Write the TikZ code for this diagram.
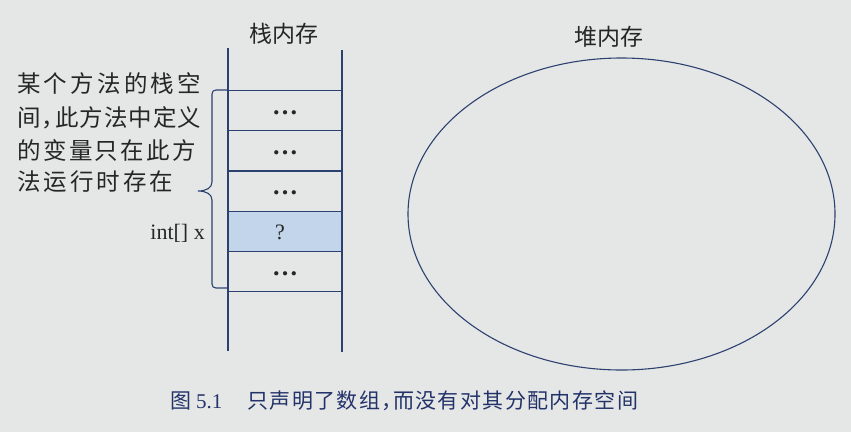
\documentclass[tikz,border=0pt]{standalone}
\usepackage{fontspec}
\setmainfont{Liberation Serif}
\newfontfamily\cjk{Noto Sans CJK SC}
\usetikzlibrary{shapes.geometric}
\definecolor{bgc}{HTML}{E5E7E6}
\definecolor{linec}{HTML}{2D4170}
\definecolor{cellblue}{HTML}{C3D5EA}
\definecolor{txtc}{HTML}{262626}
\definecolor{capc}{HTML}{23336A}
\begin{document}
\begin{tikzpicture}[x=1pt,y=-1pt,
  line/.style={draw=linec,line width=1.15pt},
  cell/.style={minimum width=114pt,minimum height=40.3pt,inner sep=0pt,outer sep=0pt},
  dotsnode/.style={font=\fontsize{26}{26}\selectfont\bfseries,text=txtc,inner sep=0pt,anchor=base},
  note/.style={font=\cjk\fontsize{23.5}{23.5}\selectfont,text=txtc,inner sep=0pt,anchor=west},
  lab/.style={font=\cjk\fontsize{23}{23}\selectfont,text=txtc,inner sep=0pt},
  capt/.style={font=\cjk\fontsize{21}{21}\selectfont,text=capc,inner sep=0pt,anchor=west}]
\fill[bgc] (0,0) rectangle (851,432);
\useasboundingbox (0,0) rectangle (851,432);

% labels
\node[lab] (stacklab) at (284,34) {栈内存};
\node[lab] (heaplab) at (609,37) {堆内存};

% stack cells
\foreach \i/\y in {1/110.5,2/150.8,3/191.1,4/231.4,5/271.7}
  \node[cell] (c\i) at (285,\y) {};
\fill[cellblue] (c4.north west) rectangle (c4.south east);
\foreach \i in {1,...,5}
  \draw[line] (c\i.north west) -- (c\i.north east);
\draw[line] (c5.south west) -- (c5.south east);

\coordinate (sLT) at (228,48);
\coordinate (sLB) at (228,351);
\coordinate (sRT) at (342,50);
\coordinate (sRB) at (342,352);
\draw[line] (sLT) -- (sLB);
\draw[line] (sRT) -- (sRB);

\foreach \i in {1,2,3,5}
  \node[dotsnode] (d\i) at ([yshift=-3.5pt]c\i.center) {…};
\node[font=\fontsize{22}{22}\selectfont,text=txtc,inner sep=0pt] (q) at (280,232) {?};
\node[font=\fontsize{22}{22}\selectfont,text=txtc,inner sep=0pt,anchor=base east] (intx) at (205,239) {int[] x};

% brace
\coordinate (bT) at (228,90);
\coordinate (bB) at (228,288);
\coordinate (bTip) at (198,191);
\draw[draw=linec,line width=1.1pt] (bT) -- (216,90) .. controls (213.5,90) and (212,91.5) .. (212,94)
  -- (212,182) .. controls (212,188) and (206,191) .. (bTip)
  .. controls (206,191) and (212,194) .. (212,200)
  -- (212,284) .. controls (212,286.5) and (213.5,288) .. (216,288) -- (bB);

% annotation
\node[note] (n1) at (17,84) {\makebox[184pt][s]{某\hfil 个\hfil 方\hfil 法\hfil 的\hfil 栈\hfil 空}};
\node[note] (n2) at (17,118) {\makebox[184pt][s]{间\hfil \makebox[13pt][l]{，}\hfil 此\hfil 方\hfil 法\hfil 中\hfil 定\hfil 义}};
\node[note] (n3) at (17,150) {\makebox[179pt][s]{的\hfil 变\hfil 量\hfil 只\hfil 在\hfil 此\hfil 方}};
\node[note] (n4) at (17,182) {\makebox[156pt][s]{法\hfil 运\hfil 行\hfil 时\hfil 存\hfil 在}};

% heap
\node[draw=linec,line width=1.1pt,ellipse,minimum width=427pt,minimum height=312pt,inner sep=0pt] (heap) at (621.5,214) {};

% caption
\node[capt] (fig) at (170,401) {图\hspace{5pt}{\rmfamily\fontsize{21}{21}\selectfont 5.1}};
\node[capt] (captext) at (247,401) {\makebox[391pt][s]{只\hfil 声\hfil 明\hfil 了\hfil 数\hfil 组\hfil \makebox[10pt][l]{，}\hfil 而\hfil 没\hfil 有\hfil 对\hfil 其\hfil 分\hfil 配\hfil 内\hfil 存\hfil 空\hfil 间}};
\end{tikzpicture}
\end{document}
